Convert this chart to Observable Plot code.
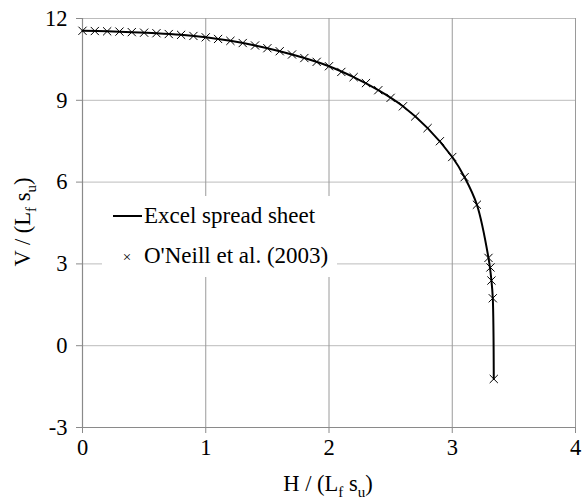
<!DOCTYPE html>
<html><head><meta charset="utf-8">
<script src="https://cdn.jsdelivr.net/npm/d3@7"></script>
<script src="https://cdn.jsdelivr.net/npm/@observablehq/plot@0.6"></script>
<style>
body{margin:0;background:#fff;}
#wrap{position:relative;width:585px;height:504px;font-family:"Liberation Serif","Times New Roman",serif;color:#000;}
.ttl{position:absolute;font-family:"Liberation Serif","Times New Roman",serif;font-size:22.5px;white-space:nowrap;text-align:center;line-height:30px;}
.sub{font-size:15px;position:relative;top:6px;}
#legend{position:absolute;left:102px;top:196px;width:235px;height:81px;background:#fff;font-family:"Liberation Serif","Times New Roman",serif;font-size:23px;}
#legend .t{position:absolute;left:42px;line-height:23px;white-space:nowrap;}
</style></head><body><div id="wrap"></div>
<script>
// O'Neill et al. (2003) points
const oneillH = [0,0.1,0.2,0.3,0.4,0.5,0.6,0.7,0.8,0.9,1.0,1.1,1.2,1.3,1.4,1.5,1.6,1.7,1.8,1.9,2.0,2.1,2.2,2.3,2.4,2.5,2.6,2.7,2.8,2.9,3.0,3.1,3.2,3.294,3.31,3.318,3.329,3.337];
const oneillV = [11.55,11.54,11.53,11.52,11.50,11.48,11.46,11.43,11.40,11.36,11.31,11.25,11.18,11.10,11.01,10.91,10.80,10.68,10.55,10.41,10.25,10.04,9.85,9.63,9.37,9.09,8.78,8.41,7.98,7.50,6.92,6.18,5.17,3.22,2.87,2.39,1.74,-1.22];
// Excel spread sheet curve
const excelH = [0,0.2,0.4,0.6,0.8,1.0,1.2,1.4,1.6,1.8,2.0,2.2,2.4,2.6,2.8,3.0,3.1,3.2,3.294,3.318,3.329,3.337];
const excelV = [11.55,11.53,11.50,11.46,11.40,11.31,11.18,11.01,10.80,10.55,10.25,9.85,9.37,8.78,7.98,6.92,6.18,5.17,3.22,2.39,1.74,-1.22];
const xTicks = [0,1,2,3,4];
const yTicks = [-3,0,3,6,9,12];
const seriesNames = ["Excel spread sheet", "O'Neill et al. (2003)"];

const pts = oneillH.map((h,i)=>({H:h,V:oneillV[i]}));
const curve = excelH.map((h,i)=>({H:h,V:excelV[i]}));

const chart = Plot.plot({
  width:585, height:504,
  marginLeft:82, marginRight:10, marginTop:18, marginBottom:77,
  style:{fontFamily:"'Liberation Serif','Times New Roman',serif", fontSize:"22.5px", color:"#000", background:"#fff"},
  x:{domain:[0,4]},
  y:{domain:[-3,12]},
  marks:[
    Plot.ruleY(yTicks,{stroke:"#bcbcbc", strokeWidth:1}),
    Plot.ruleX(xTicks,{stroke:"#9a9a9a", strokeWidth:1}),
    Plot.ruleY([-3],{stroke:"#8a8a8a", strokeWidth:1.2}),
    Plot.ruleX([0],{stroke:"#8a8a8a", strokeWidth:1.2}),
    Plot.axisX({ticks:xTicks, tickSize:6, tickPadding:6, stroke:"#8a8a8a", fill:"#000", label:null, tickFormat:d=>String(d)}),
    Plot.axisY({ticks:yTicks, tickSize:6, tickPadding:9, stroke:"#8a8a8a", fill:"#000", label:null, tickFormat:d=>String(d)}),
    Plot.line(curve,{x:"H", y:"V", stroke:"#000", strokeWidth:2, curve:"catmull-rom"}),
    Plot.dot(pts,{x:"H", y:"V", symbol:"times", r:3.8, stroke:"#000", strokeWidth:1})
  ]
});
const wrap = document.getElementById("wrap");
wrap.appendChild(chart);

const xt = document.createElement("div");
xt.className="ttl";
xt.style.left="228px"; xt.style.width="200px"; xt.style.top="469px";
xt.innerHTML = 'H / (L<span class="sub">f</span> s<span class="sub">u</span>)';
wrap.appendChild(xt);

const yt = document.createElement("div");
yt.className="ttl";
yt.style.left="-77px"; yt.style.width="200px"; yt.style.top="207px"; yt.style.height="30px";
yt.style.transform="rotate(-90deg)";
yt.innerHTML = 'V / (L<span class="sub">f</span> s<span class="sub">u</span>)';
wrap.appendChild(yt);

const lg = document.createElement("div");
lg.id="legend";
lg.innerHTML =
 '<div style="position:absolute;left:11px;top:19px;width:29px;height:2px;background:#000"></div>'+
 '<div class="t" style="top:8px">'+seriesNames[0]+'</div>'+
 '<div style="position:absolute;left:19px;top:50px;width:12px;line-height:22px;font-size:15px;text-align:center">×</div>'+
 '<div class="t" style="top:48px">'+seriesNames[1]+'</div>';
wrap.appendChild(lg);
</script>
</body></html>
